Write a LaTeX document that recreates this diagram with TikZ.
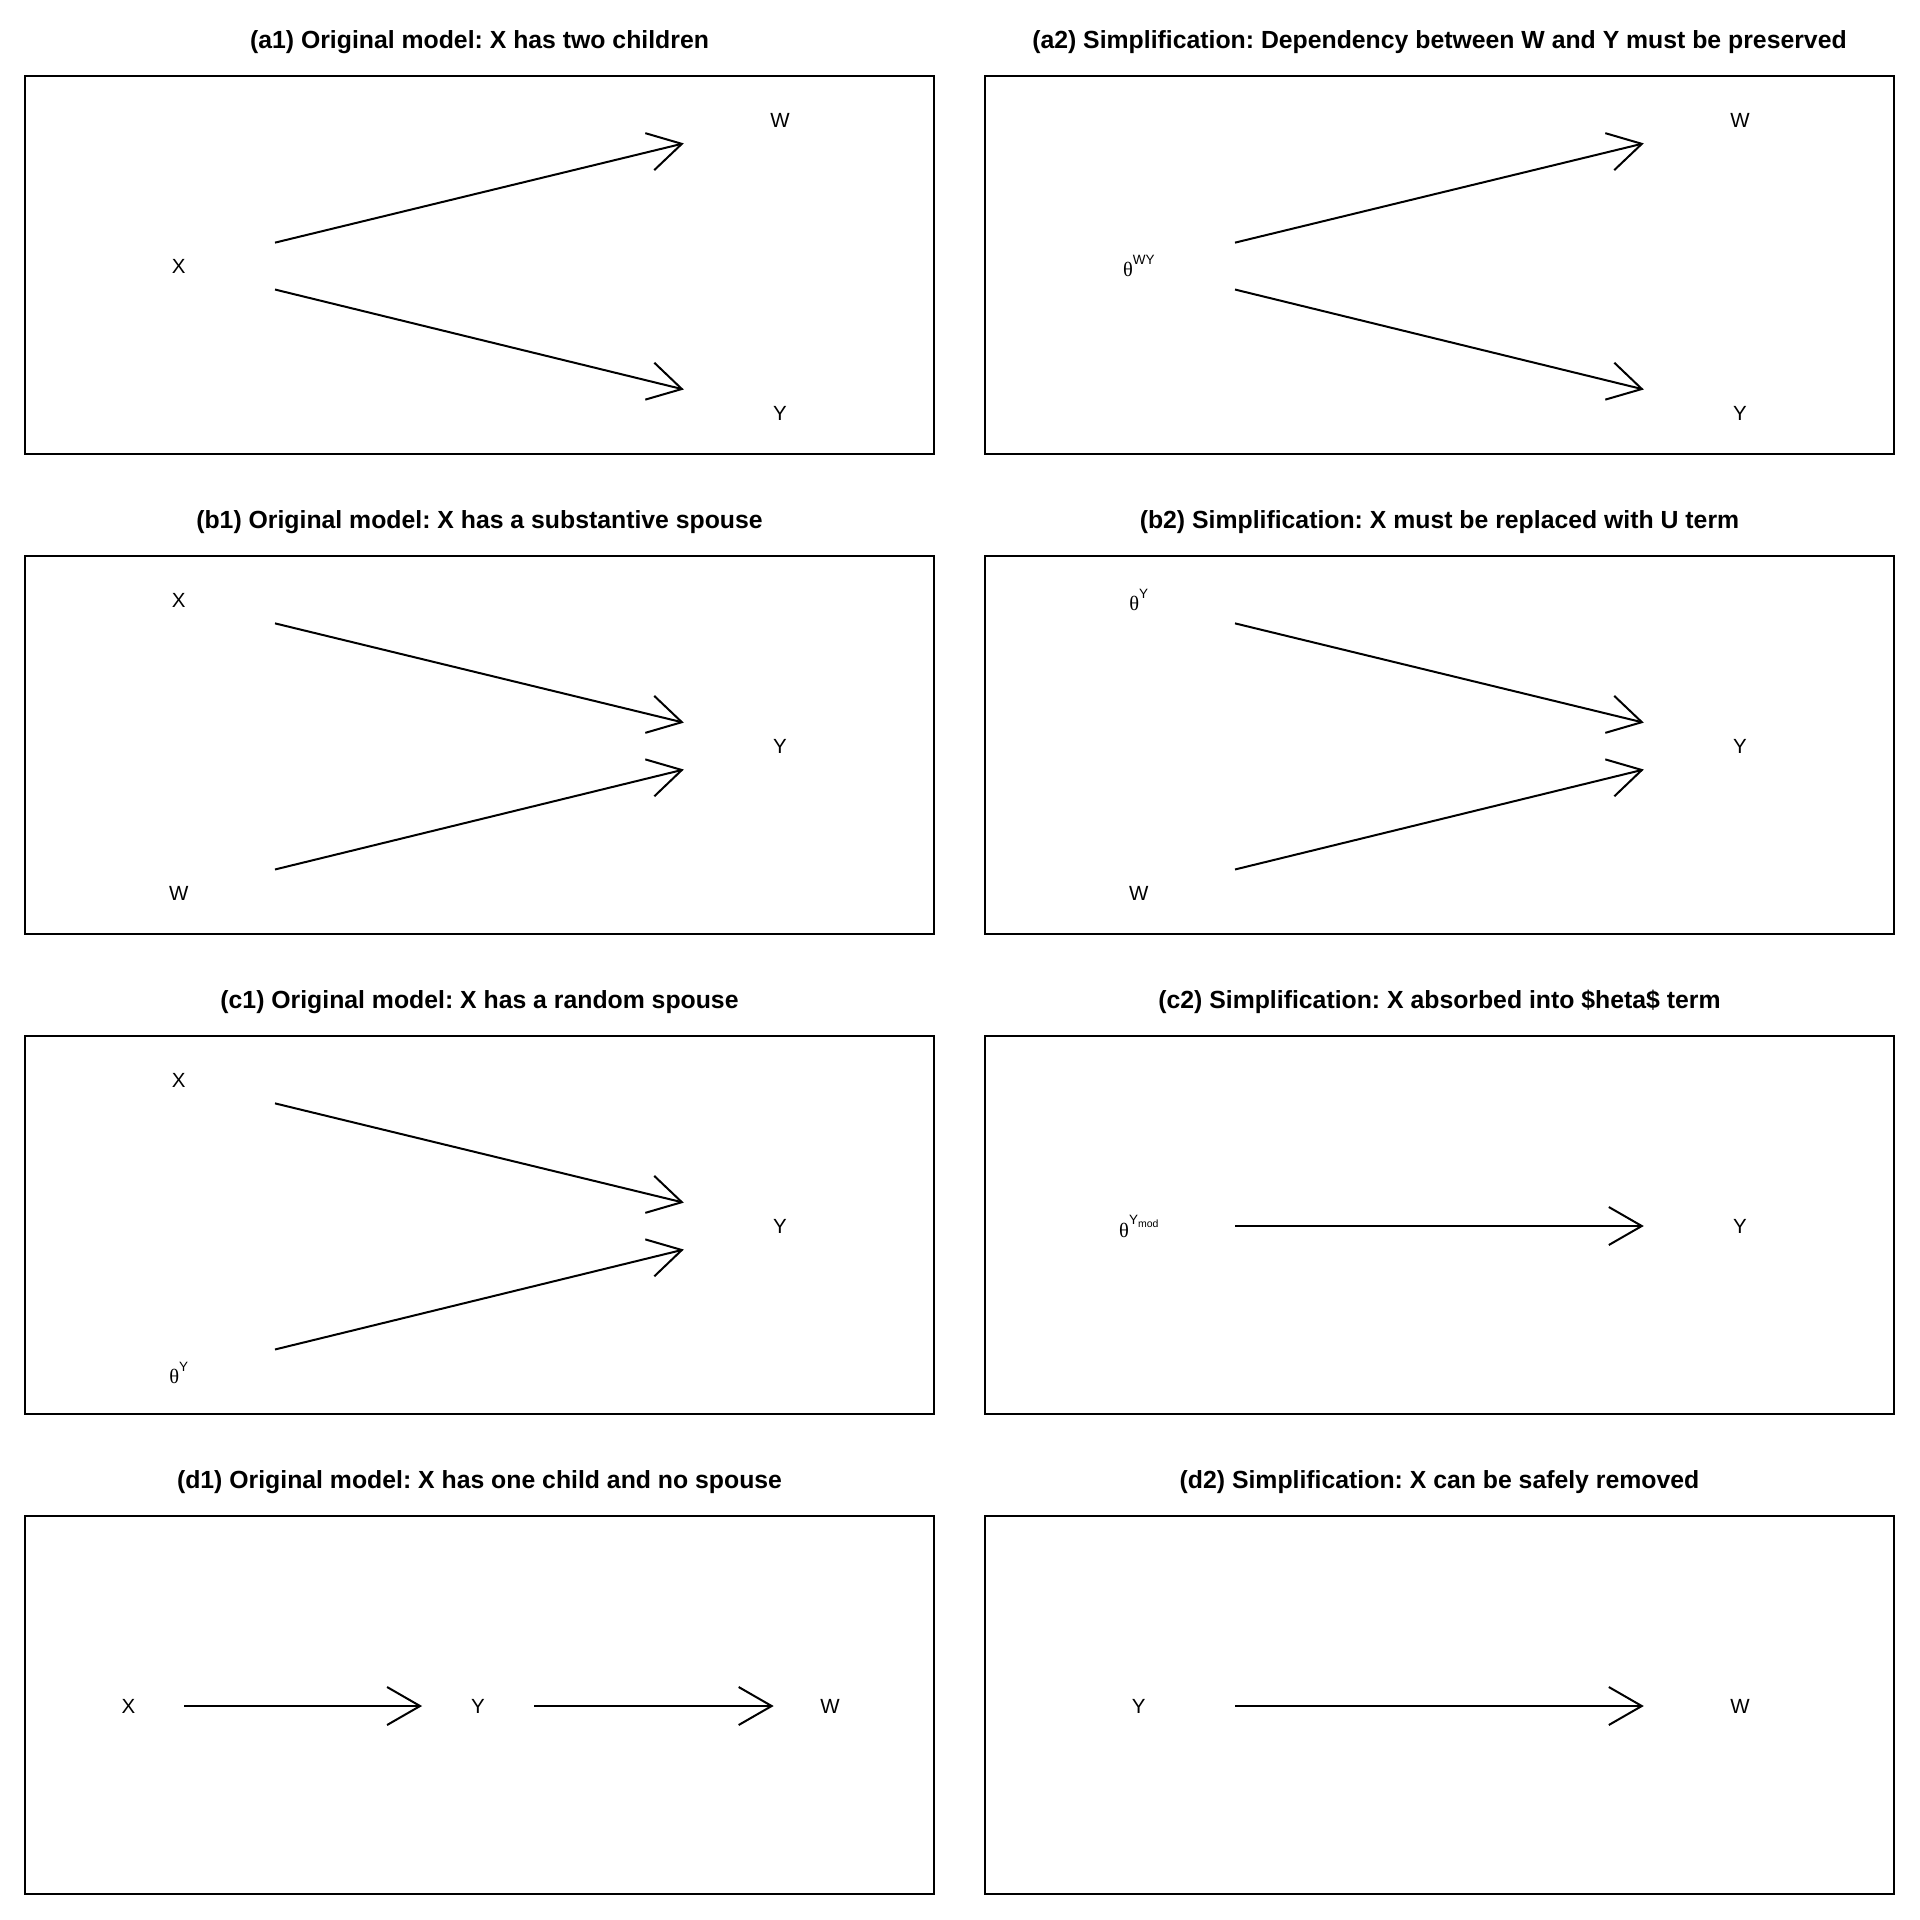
\documentclass[tikz,border=0pt]{standalone}
\usepackage{fontspec}
\setmainfont{Liberation Sans}
\newfontfamily\grfont{Liberation Serif}
\usetikzlibrary{arrows.meta,calc}
\frenchspacing
\newcommand{\thsup}[1]{{\grfont θ}\raisebox{11.5pt}{\fontsize{13.5}{14}\selectfont #1}}
\newcommand{\thmod}{{\grfont θ}\raisebox{13pt}{\fontsize{13.5}{14}\selectfont Y\raisebox{-3.3pt}{\fontsize{10.5}{11}\selectfont mod}}}
\newcommand{\conn}[2]{\draw[arr] ($(#1)!0.16!(#2)$) -- ($(#1)!0.84!(#2)$);}
\begin{document}
\begin{tikzpicture}[x=1pt,y=-1pt,
  panel/.style={draw,line width=2pt},
  ttl/.style={font=\fontsize{24.8}{28}\selectfont\bfseries, anchor=base, inner sep=0pt},
  lbl/.style={font=\fontsize{20.5}{24}\selectfont, inner sep=0pt},
  arr/.style={line width=2pt, -{Straight Barb[length=33pt,width=38pt]}}]
\useasboundingbox (0,0) rectangle (1920,1920);

% frames
\foreach \r in {0,480,960,1440}{
  \draw[panel] (25,76+\r) rectangle (934,454+\r);
  \draw[panel] (985,76+\r) rectangle (1894,454+\r);
}

% titles
\node[ttl] (ta1) at (479.5,48.3) {(a1) Original model: X has two children};
\node[ttl] (ta2) at (1439.5,48.3) {(a2) Simplification: Dependency between W and Y must be preserved};
\node[ttl] (tb1) at (479.5,528.3) {(b1) Original model: X has a substantive spouse};
\node[ttl] (tb2) at (1439.5,528.3) {(b2) Simplification: X must be replaced with U term};
\node[ttl] (tc1) at (479.5,1008.3) {(c1) Original model: X has a random spouse};
\node[ttl] (tc2) at (1439.5,1008.3) {(c2) Simplification: X absorbed into \$heta\$ term};
\node[ttl] (td1) at (479.5,1488.3) {(d1) Original model: X has one child and no spouse};
\node[ttl] (td2) at (1439.5,1488.3) {(d2) Simplification: X can be safely removed};

% (a1)
\node[lbl] (a1x) at (178.8,266) {X};
\node[lbl] (a1w) at (780,120) {W};
\node[lbl] (a1y) at (780,413) {Y};
\conn{a1x}{a1w}
\conn{a1x}{a1y}

% (a2)
\node[lbl] (a2t) at (1138.8,266) {\thsup{WY}};
\node[lbl] (a2w) at (1740,120) {W};
\node[lbl] (a2y) at (1740,413) {Y};
\conn{a2t}{a2w}
\conn{a2t}{a2y}

% (b1)
\node[lbl] (b1x) at (178.8,600) {X};
\node[lbl] (b1w) at (178.8,893) {W};
\node[lbl] (b1y) at (780,746) {Y};
\conn{b1x}{b1y}
\conn{b1w}{b1y}

% (b2)
\node[lbl] (b2t) at (1138.8,600) {\thsup{Y}};
\node[lbl] (b2w) at (1138.8,893) {W};
\node[lbl] (b2y) at (1740,746) {Y};
\conn{b2t}{b2y}
\conn{b2w}{b2y}

% (c1)
\node[lbl] (c1x) at (178.8,1080) {X};
\node[lbl] (c1t) at (178.8,1373) {\thsup{Y}};
\node[lbl] (c1y) at (780,1226) {Y};
\conn{c1x}{c1y}
\conn{c1t}{c1y}

% (c2)
\node[lbl] (c2t) at (1138.8,1226) {\thmod};
\node[lbl] (c2y) at (1740,1226) {Y};
\conn{c2t}{c2y}

% (d1)
\node[lbl] (d1x) at (128.5,1706) {X};
\node[lbl] (d1y) at (478,1706) {Y};
\node[lbl] (d1w) at (830,1706) {W};
\conn{d1x}{d1y}
\conn{d1y}{d1w}

% (d2)
\node[lbl] (d2y) at (1138.8,1706) {Y};
\node[lbl] (d2w) at (1740,1706) {W};
\conn{d2y}{d2w}
\end{tikzpicture}
\end{document}
